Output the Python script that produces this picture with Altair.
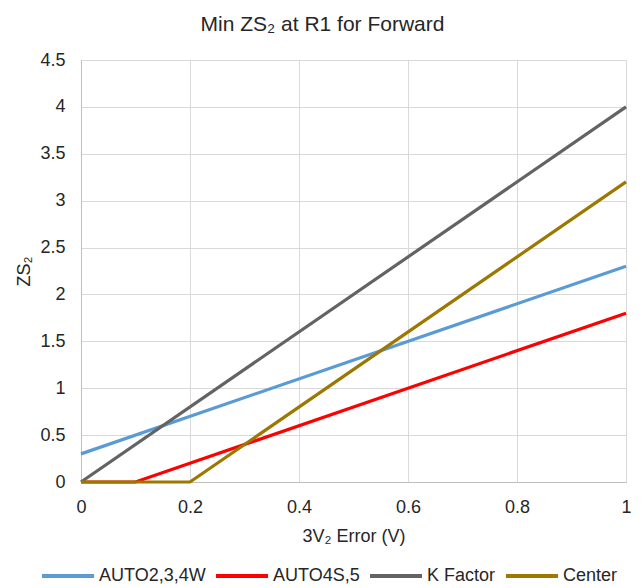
import altair as alt
import pandas as pd

series_names = ["AUTO2,3,4W", "AUTO4S,5", "K Factor", "Center"]
colors = ["#5B9BD5", "#FF0000", "#636363", "#9C7800"]

auto234w_x = [0, 1]
auto234w_y = [0.3, 2.3]
auto4s5_x = [0, 0.1, 1]
auto4s5_y = [0, 0, 1.8]
kfactor_x = [0, 1]
kfactor_y = [0, 4]
center_x = [0, 0.2, 1]
center_y = [0, 0, 3.2]

x_ticks = [0, 0.2, 0.4, 0.6, 0.8, 1]
y_ticks = [0, 0.5, 1, 1.5, 2, 2.5, 3, 3.5, 4, 4.5]

rows = []
for name, xs, ys in [
    (series_names[0], auto234w_x, auto234w_y),
    (series_names[1], auto4s5_x, auto4s5_y),
    (series_names[2], kfactor_x, kfactor_y),
    (series_names[3], center_x, center_y),
]:
    for i, (x, y) in enumerate(zip(xs, ys)):
        rows.append({"series": name, "x": x, "y": y, "order": i})
df = pd.DataFrame(rows)

FONT = "Liberation Sans"
TXT = "#262626"

chart = alt.Chart(df).mark_line(strokeWidth=3.2).encode(
    x=alt.X("x:Q", scale=alt.Scale(domain=[0, 1], nice=False),
            axis=alt.Axis(title="3V₂ Error (V)", values=x_ticks, format="~g",
                          labelFontSize=18, titleFontSize=18, titleFontWeight="normal",
                          labelFont=FONT, titleFont=FONT, labelColor=TXT, titleColor=TXT,
                          ticks=False, domainColor="#BFBFBF", gridColor="#D9D9D9",
                          labelPadding=16, titlePadding=11, labelFlush=False)),
    y=alt.Y("y:Q", scale=alt.Scale(domain=[0, 4.5], nice=False),
            axis=alt.Axis(title="ZS₂", values=y_ticks, format="~g",
                          labelFontSize=18, titleFontSize=18, titleFontWeight="normal",
                          labelFont=FONT, titleFont=FONT, labelColor=TXT, titleColor=TXT,
                          ticks=False, domainColor="#BFBFBF", gridColor="#D9D9D9",
                          labelPadding=16, titlePadding=6)),
    color=alt.Color("series:N", scale=alt.Scale(domain=series_names, range=colors),
                    legend=alt.Legend(title=None, orient="none", direction="horizontal",
                                      legendX=-41, legendY=488,
                                      symbolType="stroke", symbolSize=2704, symbolStrokeWidth=4,
                                      labelFontSize=18, labelFont=FONT, labelColor=TXT,
                                      labelOffset=3, columnPadding=2)),
    order="order:Q",
).properties(
    width=545, height=422,
    title=alt.TitleParams("Min ZS₂ at R1 for Forward", font=FONT, fontSize=21,
                          fontWeight="normal", color=TXT, anchor="middle", dx=-31, offset=16),
    autosize=alt.AutoSizeParams(type="none"),
    padding={"left": 73, "top": 52, "right": 8, "bottom": 106},
).configure_view(stroke=None)

chart.save("out.html", embed_options={"renderer": "svg", "actions": False})
